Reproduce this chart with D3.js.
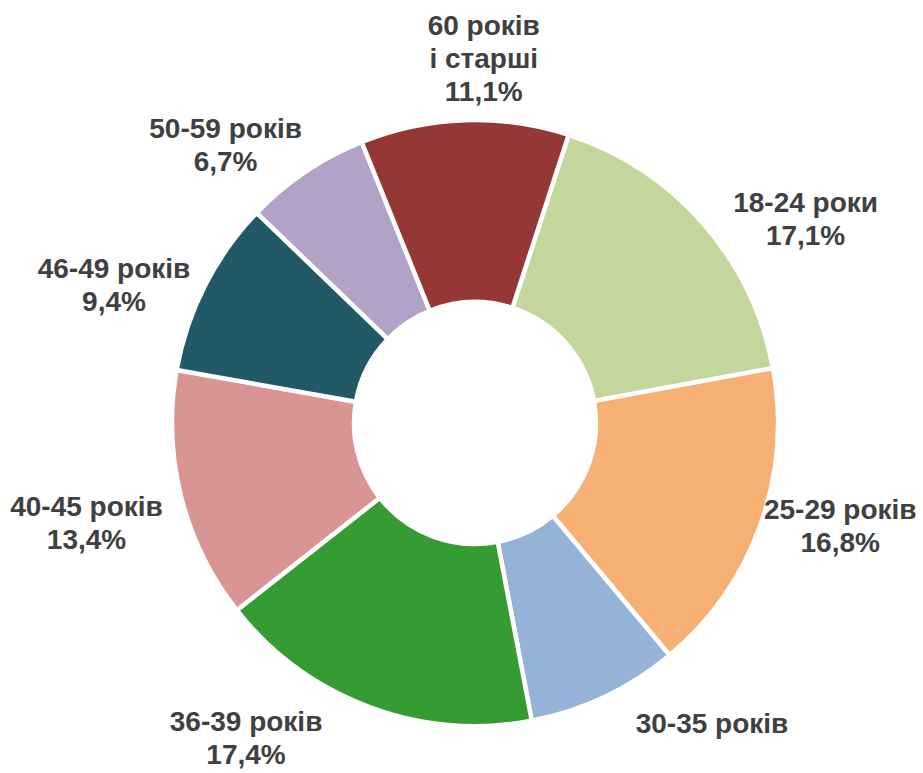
<!DOCTYPE html>
<meta charset="utf-8">
<head>
  <title>Age structure donut</title>
  <style>
    body { margin: 0; background: #fff; }
    text { font-family: "Liberation Sans", Arial, sans-serif; font-weight: bold; }
  </style>
</head>

<body>
  <script src="https://d3js.org/d3.v7.min.js"></script>

  <script>

const categories = ["18-24 роки", "25-29 років", "30-35 років", "36-39 років",
                    "40-45 років", "46-49 років", "50-59 років", "60 років\nі старші"];
const shares = [17.1, 16.8, 8.1, 17.4, 13.4, 9.4, 6.7, 11.1];
// the 30-35 slice has no percentage shown in the original
const showShare = [true, true, false, true, true, true, true, true];
const colors = ["#C3D69B", "#F7B074", "#95B3D7", "#359B33",
                "#D99594", "#215967", "#B2A2C7", "#953735"];

const totalWidth = 923, totalHeight = 773,
      cx = 475, cy = 423,
      outerR = 303, innerR = 121,
      labelR = 385,
      lineH = 33;

// label nudges (Excel "best fit" placement), px from the label arc point
const nudge = [[41, 49], [3, -28], [72, -48], [-94, -46],
               [-15, 6], [-18, 36], [-34, 41], [22, 20]];

const svg = d3.select("body")
  .append("svg")
  .attr("width", totalWidth)
  .attr("height", totalHeight);

const g = svg.append("g")
  .attr("transform", "translate(" + cx + "," + cy + ")");

const start = 18 * Math.PI / 180;

const pie = d3.pie()
  .sort(null)
  .value(d => d)
  .startAngle(start)
  .endAngle(start + 2 * Math.PI);

const arcs = pie(shares);

const arc = d3.arc()
  .innerRadius(innerR)
  .outerRadius(outerR);

const labelArc = d3.arc()
  .innerRadius(labelR)
  .outerRadius(labelR);

// slices
g.selectAll("path")
  .data(arcs)
  .enter()
  .append("path")
  .attr("d", arc)
  .style("fill", (d, i) => colors[i])
  .style("stroke", "#fff")
  .style("stroke-width", 4.5)
  .style("stroke-linejoin", "miter");

// labels
const fmt = v => d3.format(".1f")(v).replace(".", ",") + "%";

arcs.forEach((d, i) => {
  const lines = categories[i].split("\n");
  if (showShare[i]) lines.push(fmt(shares[i]));
  const [px, py] = labelArc.centroid(d);
  const x = px + nudge[i][0];
  const yMid = py + nudge[i][1];
  const y0 = yMid - (lines.length - 1) * lineH / 2 + 10;

  const t = g.append("text")
    .attr("text-anchor", "middle")
    .style("font-size", "28px")
    .style("fill", "#404040");

  lines.forEach((s, k) => {
    t.append("tspan")
      .attr("x", x)
      .attr("y", y0 + k * lineH)
      .text(s);
  });
});

  </script>
</body>
</html>
